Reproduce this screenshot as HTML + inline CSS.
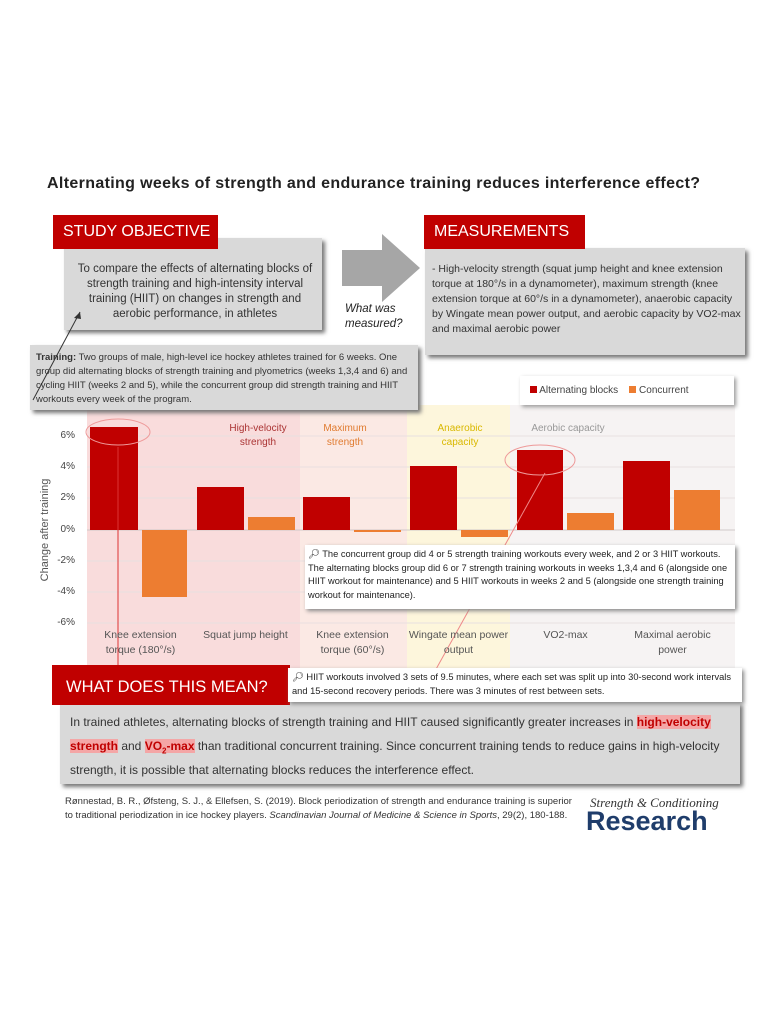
<!DOCTYPE html>
<html><head><meta charset="utf-8"><style>
body{margin:0;width:768px;height:1024px;background:#fff;position:relative;font-family:"Liberation Sans",sans-serif;overflow:hidden}
.a{position:absolute}
.red{background:#c00000;color:#fff;font-size:16px;padding-left:10px;line-height:34px}
.gray{background:#d9d9d9;box-shadow:3px 3px 4px #777}
.t{font-size:11px;color:#333;line-height:15px}
.yl{font-size:10px;color:#444;width:30px;text-align:right}
.cat{font-size:10.5px;color:#555;text-align:center;width:105px;line-height:15px}
sub{line-height:0}
</style></head><body>
<div class="a" style="left:47px;top:175px;font-size:16px;letter-spacing:0.35px;font-weight:bold;color:#222;white-space:nowrap">Alternating weeks of strength and endurance training reduces interference effect?</div>

<div class="a gray" style="left:64px;top:238px;width:258px;height:92px"></div>
<div class="a red" style="left:53px;top:215px;width:155px">STUDY OBJECTIVE</div>
<div class="a t" style="left:70px;top:262px;width:250px;text-align:center;font-size:11.5px">To compare the effects of alternating blocks of strength training and high-intensity interval training (HIIT) on changes in strength and aerobic performance, in athletes</div>

<svg class="a" style="left:340px;top:232px" width="82" height="72"><polygon points="2,18 42,18 42,2 80,36 42,70 42,54 2,54" fill="#a6a6a6"/></svg>
<div class="a" style="left:345px;top:302px;font-size:11.5px;font-style:italic;color:#222;line-height:15px">What was<br>measured?</div>

<div class="a gray" style="left:425px;top:248px;width:320px;height:107px"></div>
<div class="a red" style="left:424px;top:215px;width:151px">MEASUREMENTS</div>
<div class="a t" style="left:432px;top:262px;width:310px;font-size:10.5px">- High-velocity strength (squat jump height and knee extension torque at 180°/s in a dynamometer), maximum strength (knee extension torque at 60°/s in a dynamometer), anaerobic capacity by Wingate mean power output, and aerobic capacity by VO2-max and maximal aerobic power</div>

<div class="a" style="left:87px;top:405px;width:213px;height:285px;background:#f9dcdc"></div>
<div class="a" style="left:300px;top:405px;width:107px;height:285px;background:#fbe9e4"></div>
<div class="a" style="left:407px;top:405px;width:103px;height:285px;background:#fdf6dc"></div>
<div class="a" style="left:510px;top:405px;width:225px;height:285px;background:#f6f3f3"></div>

<div class="a gray" style="left:30px;top:345px;width:388px;height:65px"></div>
<div class="a t" style="left:36px;top:351px;width:380px;font-size:9.5px;line-height:14px"><b>Training:</b> Two groups of male, high-level ice hockey athletes trained for 6 weeks. One group did alternating blocks of strength training and plyometrics (weeks 1,3,4 and 6) and cycling HIIT (weeks 2 and 5), while the concurrent group did strength training and HIIT workouts every week of the program.</div>

<div class="a" style="left:520px;top:376px;width:214px;height:29px;background:#fff;box-shadow:2px 2px 4px #999;font-size:10px;color:#444;line-height:29px">
<span style="display:inline-block;width:7px;height:7px;background:#c00000;margin-left:10px"></span> Alternating blocks &nbsp;&nbsp;&nbsp;<span style="display:inline-block;width:7px;height:7px;background:#ed7d31"></span> Concurrent</div>

<svg class="a" style="left:0;top:0" width="768" height="1024">
<g stroke="#e8e0e0" stroke-width="1">
<line x1="87" y1="436" x2="735" y2="436"/><line x1="87" y1="467" x2="735" y2="467"/><line x1="87" y1="498" x2="735" y2="498"/><line x1="87" y1="561" x2="735" y2="561"/><line x1="87" y1="592" x2="735" y2="592"/><line x1="87" y1="623" x2="735" y2="623"/>
</g>
<line x1="87" y1="530" x2="735" y2="530" stroke="#d0c8c8"/>
<g fill="#c00000">
<rect x="90" y="427" width="48" height="103"/><rect x="197" y="487" width="47" height="43"/><rect x="303" y="497" width="47" height="33"/><rect x="410" y="466" width="47" height="64"/><rect x="517" y="450" width="46" height="80"/><rect x="623" y="461" width="47" height="69"/>
</g>
<g fill="#ed7d31">
<rect x="142" y="530" width="45" height="67"/><rect x="248" y="517" width="47" height="13"/><rect x="354" y="530" width="47" height="2"/><rect x="461" y="530" width="47" height="7"/><rect x="567" y="513" width="47" height="17"/><rect x="674" y="490" width="46" height="40"/>
</g>
<ellipse cx="118" cy="432" rx="32" ry="13" fill="none" stroke="#e99" stroke-width="1"/>
<ellipse cx="540" cy="460" rx="35" ry="15" fill="none" stroke="#e99" stroke-width="1"/>
<line x1="118" y1="447" x2="118" y2="720" stroke="#d33" stroke-width="1"/>
<line x1="545" y1="473" x2="430" y2="680" stroke="#e88" stroke-width="1"/>
<line x1="33" y1="400" x2="80" y2="312" stroke="#333" stroke-width="1"/>
<polygon points="80,312 74,318 81,319" fill="#333"/>
<text transform="translate(48,530) rotate(-90)" text-anchor="middle" font-size="11" fill="#555" font-family="Liberation Sans">Change after training</text>
<g font-family="Liberation Sans" font-size="10" text-anchor="middle">
<text x="258" y="431" fill="#a33">High-velocity</text><text x="258" y="445" fill="#a33">strength</text>
<text x="345" y="431" fill="#e07b30">Maximum</text><text x="345" y="445" fill="#e07b30">strength</text>
<text x="460" y="431" fill="#d9b800">Anaerobic</text><text x="460" y="445" fill="#d9b800">capacity</text>
<text x="568" y="431" fill="#999">Aerobic capacity</text>
</g>
</svg>
<div class="a yl" style="left:45px;top:430px">6%</div>
<div class="a yl" style="left:45px;top:461px">4%</div>
<div class="a yl" style="left:45px;top:492px">2%</div>
<div class="a yl" style="left:45px;top:524px">0%</div>
<div class="a yl" style="left:45px;top:555px">-2%</div>
<div class="a yl" style="left:45px;top:586px">-4%</div>
<div class="a yl" style="left:45px;top:617px">-6%</div>

<div class="a cat" style="left:88px;top:628px">Knee extension torque (180°/s)</div>
<div class="a cat" style="left:193px;top:628px">Squat jump height</div>
<div class="a cat" style="left:300px;top:628px">Knee extension torque (60°/s)</div>
<div class="a cat" style="left:406px;top:628px">Wingate mean power output</div>
<div class="a cat" style="left:513px;top:628px">VO2-max</div>
<div class="a cat" style="left:620px;top:628px">Maximal aerobic power</div>

<div class="a" style="left:305px;top:545px;width:424px;height:58px;background:#fff;box-shadow:2px 2px 4px #888;padding:3px 3px;font-size:9.3px;line-height:13.5px;color:#222">&#x1F50E;&#xFE0E; The concurrent group did 4 or 5 strength training workouts every week, and 2 or 3 HIIT workouts. The alternating blocks group did 6 or 7 strength training workouts in weeks 1,3,4 and 6 (alongside one HIIT workout for maintenance) and 5 HIIT workouts in weeks 2 and 5 (alongside one strength training workout for maintenance).</div>

<div class="a gray" style="left:60px;top:702px;width:680px;height:82px"></div>
<div class="a red" style="left:52px;top:665px;width:224px;height:40px;line-height:44px;font-size:16.5px;padding-left:14px">WHAT DOES THIS MEAN?</div>
<div class="a" style="left:288px;top:668px;width:446px;height:30px;background:#fff;box-shadow:2px 2px 4px #888;padding:2px 4px;font-size:9.3px;line-height:14px;color:#222">&#x1F50E;&#xFE0E; HIIT workouts involved 3 sets of 9.5 minutes, where each set was split up into 30-second work intervals and 15-second recovery periods. There was 3 minutes of rest between sets.</div>
<div class="a" style="left:70px;top:710px;width:675px;font-size:12px;line-height:24px;color:#333">In trained athletes, alternating blocks of strength training and HIIT caused significantly greater increases in <b style="color:#c00000;background:#f4a6a6">high-velocity strength</b> and <b style="color:#c00000;background:#f4a6a6">VO<sub style="font-size:8px">2</sub>-max</b> than traditional concurrent training. Since concurrent training tends to reduce gains in high-velocity strength, it is possible that alternating blocks reduces the interference effect.</div>

<div class="a" style="left:65px;top:795px;width:510px;font-size:9.5px;line-height:13.5px;color:#333">Rønnestad, B. R., Øfsteng, S. J., &amp; Ellefsen, S. (2019). Block periodization of strength and endurance training is superior to traditional periodization in ice hockey players. <i>Scandinavian Journal of Medicine &amp; Science in Sports</i>, 29(2), 180-188.</div>
<div class="a" style="left:590px;top:795px;font-family:'Liberation Serif',serif;font-style:italic;font-size:13px;color:#333">Strength &amp; Conditioning</div>
<div class="a" style="left:586px;top:806px;font-size:27px;font-weight:bold;color:#1f3d6b">Research</div>
</body></html>
